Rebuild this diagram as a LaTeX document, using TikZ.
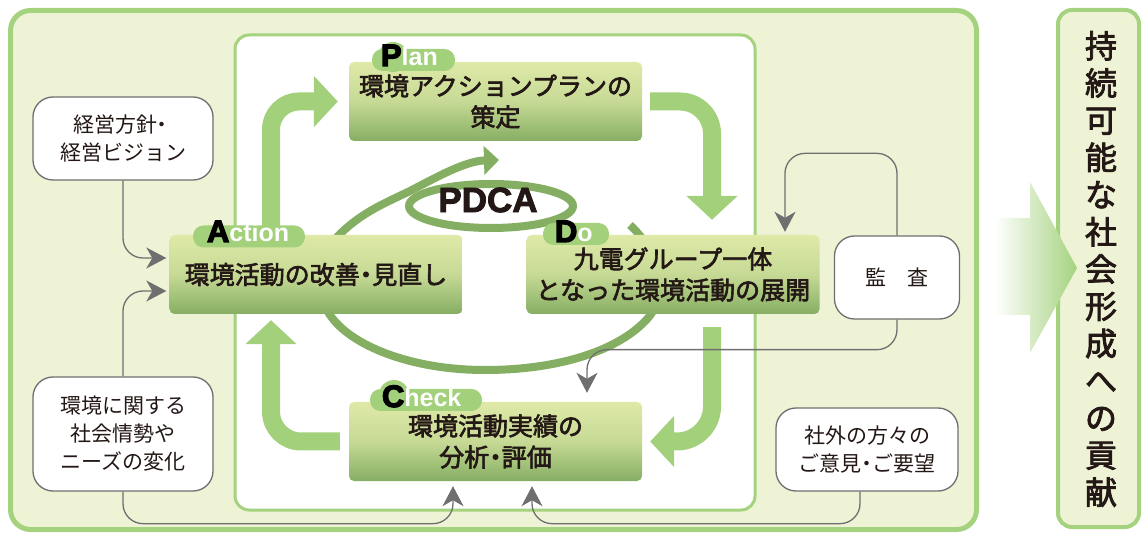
\documentclass[tikz,border=0pt]{standalone}
\usepackage{fontspec}
\newfontfamily\cjk{Noto Sans CJK JP}
\newfontfamily\cjkm[RawFeature={embolden=2.5}]{Noto Sans CJK JP}
\newfontfamily\lat{Liberation Sans}[UprightFont={* Bold}]
\newfontfamily\latheavy{Liberation Sans}[UprightFont={* Bold}, RawFeature={embolden=4}]
\newfontfamily\latpdca{Liberation Sans}[UprightFont={* Bold}, RawFeature={embolden=2.5}]
\usetikzlibrary{arrows.meta,calc}
\definecolor{panelbg}{HTML}{EFF3D6}
\definecolor{panelline}{HTML}{A5D27F}
\definecolor{bigarrow}{HTML}{A3D07A}
\definecolor{arrowg}{HTML}{A5D27F}
\definecolor{spiralc}{HTML}{84AE62}
\definecolor{boxtop}{HTML}{DFE9A8}
\definecolor{boxmid}{HTML}{C6DA95}
\definecolor{boxbot}{HTML}{86AE63}
\definecolor{tabfill}{HTML}{A3D07B}
\definecolor{connc}{HTML}{6F6F6F}
\definecolor{ink}{HTML}{231815}
\newcommand{\tabcap}[1]{{\latheavy\color{black}\fontsize{31}{31}\selectfont #1}}
\newcommand{\tablow}[1]{{\lat\color{white}\fontsize{25}{25}\selectfont #1}}
\newcommand{\ndot}{\hspace{-0.25em}・\hspace{-0.25em}}
\begin{document}
\begin{tikzpicture}[x=1pt,y=-1pt,
  stagebox/.style={rounded corners=5pt, top color=boxtop, bottom color=boxbot, middle color=boxmid,
    minimum width=293pt, minimum height=79pt, align=center, text=ink,
    font=\cjkm\fontsize{25}{32}\selectfont, inner sep=0pt},
  sidebox/.style={draw=connc, line width=1.3pt, fill=white, rounded corners=20pt, align=center,
    text=ink, font=\cjk\fontsize{21}{28}\selectfont, inner sep=0pt},
  tabpill/.style={fill=tabfill, rounded corners=10.5pt, inner sep=0pt, minimum height=22pt},
  tabbump/.style={fill=tabfill, circle, inner sep=0pt, minimum size=30pt},
  tablabel/.style={anchor=base west, inner sep=0pt},
  gconn/.style={draw=connc, line width=1.3pt, rounded corners=20pt,
    -{Stealth[length=20pt,width=21pt,inset=6pt]}},
  flow/.style={draw=bigarrow, line width=18pt, -{Triangle[length=24pt,width=50pt]}},
  spiralline/.style={draw=spiralc, line width=8pt}
]
\useasboundingbox (0,0) rectangle (1141,534);
% panels
\draw[draw=panelline, line width=5pt, fill=panelbg, rounded corners=20pt] (10.5,10.5) rectangle (976.5,529.5);
\draw[draw=panelline, line width=4pt, fill=panelbg, rounded corners=14pt] (1058,10) rectangle (1139,527);
\path[left color=white, right color=arrowg] (995,218) -- (1030,218) -- (1030,182) -- (1077,268) -- (1030,353) -- (1030,315) -- (995,315) -- cycle;
\draw[draw=panelline, line width=3pt, fill=white, rounded corners=14pt] (235,35) rectangle (755,510);
\node[align=center, text=ink, inner sep=0pt, font=\cjkm\fontsize{32}{37.2}\selectfont] (contrib) at (1101,269)
  {持\\続\\可\\能\\な\\社\\会\\形\\成\\へ\\の\\貢\\献};

% spiral
\draw[spiralline] (491,206) ellipse [x radius=82pt, y radius=22pt];
\draw[spiralline, -{Triangle[length=15pt,width=28pt]}]
  (630,225) .. controls (655,248) and (672,290) .. (648,318)
  .. controls (620,350) and (560,370) .. (485,370)
  .. controls (410,370) and (350,345) .. (330,315)
  .. controls (310,285) and (318,255) .. (341,233)
  .. controls (363,212) and (385,203) .. (410,191)
  .. controls (435,178) and (465,161) .. (499,160);
\node[font=\latpdca\fontsize{35}{35}\selectfont, text=ink, inner sep=0pt] (pdca) at (488,200) {PDCA};

% side boxes
\node[sidebox, minimum width=180pt, minimum height=83pt] (keiei) at (123,138.5) {経営方針\ndot\\経営ビジョン};
\node[sidebox, minimum width=180pt, minimum height=114pt] (shakai) at (123,434) {環境に関する\\社会情勢や\\ニーズの変化};
\node[sidebox, minimum width=125pt, minimum height=83pt] (kansa) at (897,277.5) {監　査};
\node[sidebox, minimum width=182pt, minimum height=83pt] (gaibu) at (867,449.5) {社外の方々の\\ご意見\ndot ご要望};

% stage boxes
\node[stagebox] (plan) at (495.5,101.5) {\raisebox{-3pt}{\shortstack{環境アクションプランの\\[5pt]策定}}};
\node[stagebox] (action) at (316,274.5) {環境活動の改善\ndot 見直し};
\node[stagebox] (do) at (673,274.5) {\raisebox{-2pt}{\shortstack{九電グループ一体\\[5pt]となった環境活動の展開}}};
\node[stagebox] (check) at (495.5,441.5) {\raisebox{-3pt}{\shortstack{環境活動実績の\\[5pt]分析\ndot 評価}}};

% big flow arrows
\draw[flow, rounded corners=28pt] ([xshift=-45pt]action.north) |- ([xshift=-11pt]plan.west);
\draw[flow, rounded corners=32pt] ([xshift=8pt]plan.east) -| ([xshift=39pt,yshift=15pt]do.north);
\draw[flow, rounded corners=35pt] ([xshift=39pt,yshift=-13pt]do.south) |- ([xshift=8pt]check.east);
\draw[flow, rounded corners=30pt] ([xshift=-9pt]check.west) -| ([xshift=-45pt,yshift=-6pt]action.south);

% gray connectors
\draw[gconn] (keiei.south) |- ([xshift=-3pt,yshift=16.5pt]action.west);
\draw[gconn] (shakai.north) |- ([xshift=-3pt,yshift=-16.5pt]action.west);
\draw[gconn] (shakai.south) -- ++(0,32) -| ([xshift=-42.5pt,yshift=-5pt]check.south);
\draw[gconn] ([xshift=-7pt]gaibu.south) -- ++(0,32) -| ([xshift=36.5pt,yshift=-5pt]check.south);
\draw[gconn] (kansa.north) -- ++(0,-82) -| ([xshift=112pt,yshift=3pt]do.north);
\draw[gconn] (kansa.south) -- ++(0,30) -| ([xshift=91.5pt,yshift=9pt]check.north);

% tabs
\node[tabbump] (pbump) at (393,57) {};
\node[tabpill, minimum width=83pt] (ptab) at (413.5,60) {};
\node[tablabel] (plabel) at ($(ptab.west)+(9,6)$) {\tabcap{P}\tablow{lan}};
\node[tabpill, minimum width=112pt] (atab) at (249,236.5) {};
\node[tablabel] (alabel) at ($(atab.west)+(14,5.5)$) {\tabcap{A}\tablow{ction}};
\node[tabpill, minimum width=66pt] (dtab) at (576,234) {};
\node[tablabel] (dlabel) at ($(dtab.west)+(12,8)$) {\tabcap{D}\tablow{o}};
\node[tabbump] (cbump) at (394,395) {};
\node[tabpill, minimum width=112pt] (ctab) at (426,400) {};
\node[tablabel] (clabel) at ($(ctab.west)+(12,7)$) {\tabcap{C}\tablow{heck}};
\end{tikzpicture}
\end{document}
